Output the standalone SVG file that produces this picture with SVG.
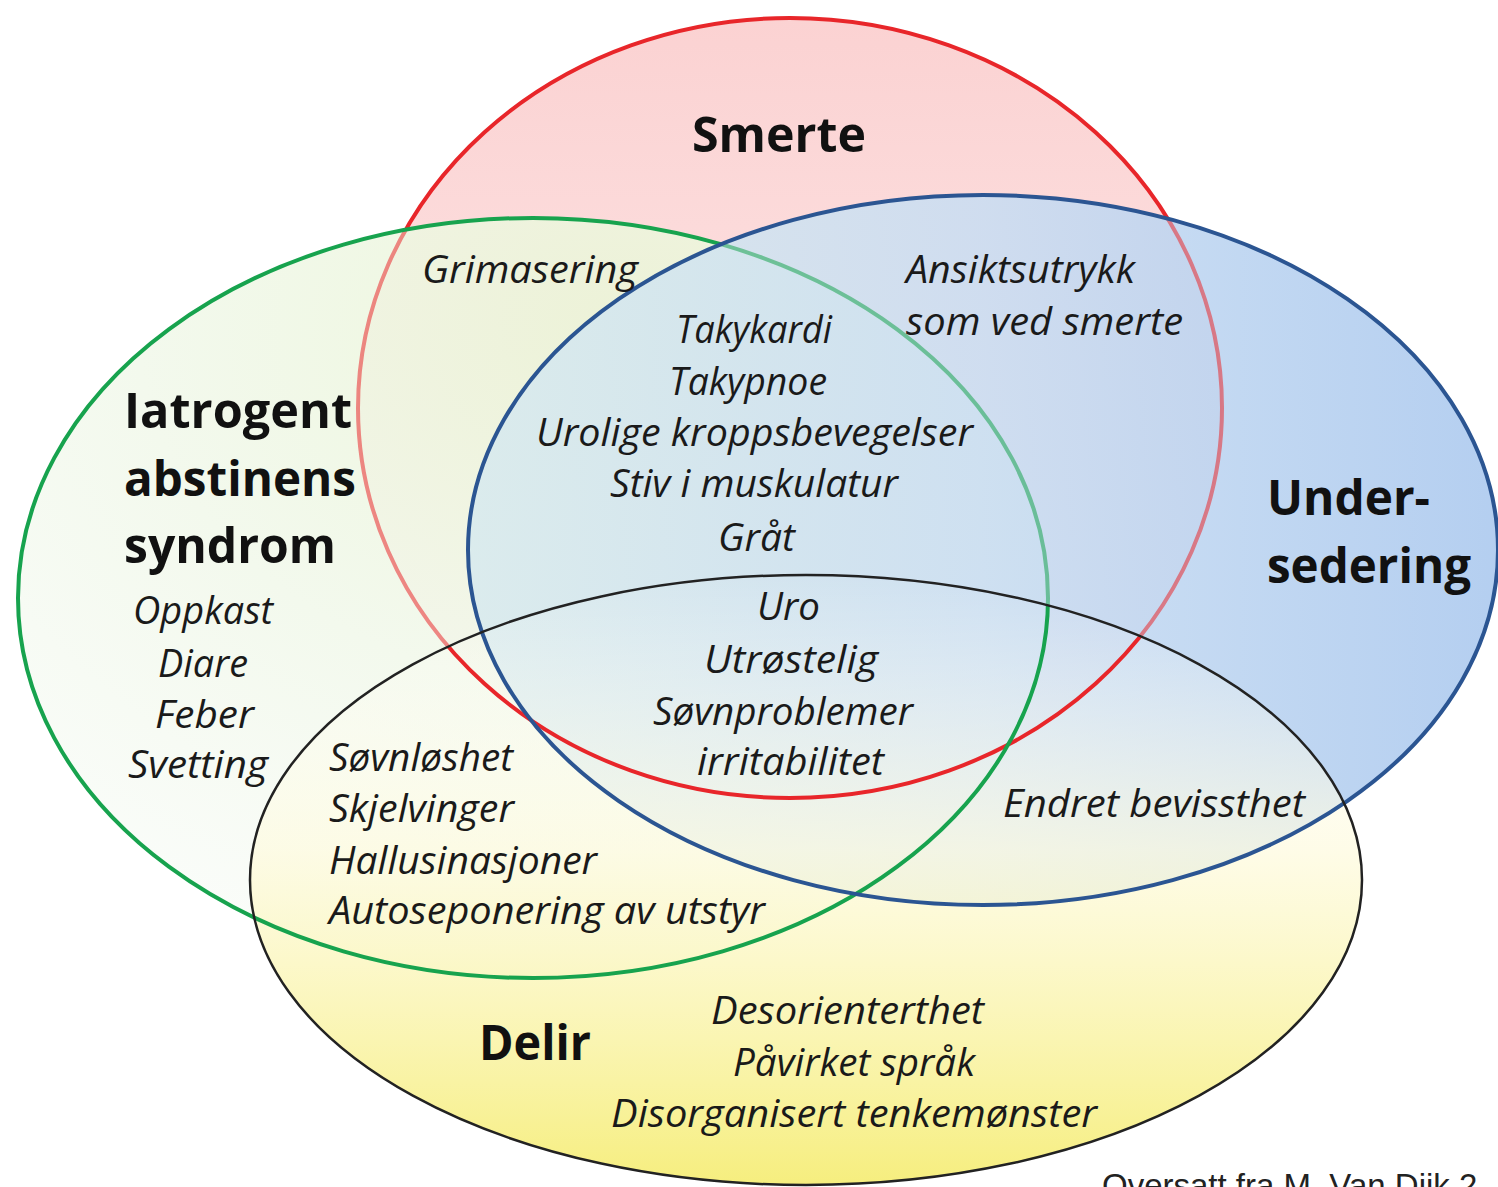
<svg xmlns="http://www.w3.org/2000/svg" width="1498" height="1187" viewBox="0 0 1498 1187">
<defs>
<linearGradient id="gRed" x1="0" y1="0" x2="0" y2="1">
<stop offset="0" stop-color="#fbd2d2"/>
<stop offset="0.6" stop-color="#fde4e4"/>
<stop offset="1" stop-color="#fff0f0"/>
</linearGradient>
<radialGradient id="gGreen" cx="0.6" cy="0.15" r="0.85">
<stop offset="0" stop-color="#eaf5d6"/>
<stop offset="0.55" stop-color="#f1f8ea"/>
<stop offset="1" stop-color="#f9fcf8"/>
</radialGradient>
<linearGradient id="gBlue" x1="0" y1="0" x2="1" y2="0">
<stop offset="0" stop-color="#d8eaee"/>
<stop offset="0.5" stop-color="#c9ddf2"/>
<stop offset="1" stop-color="#aac8ee"/>
</linearGradient>
<linearGradient id="gYellow" x1="0" y1="0" x2="0" y2="1">
<stop offset="0" stop-color="#ffffff" stop-opacity="0"/>
<stop offset="0.45" stop-color="#fefbe0" stop-opacity="0.75"/>
<stop offset="1" stop-color="#f6ee7e"/>
</linearGradient>
<mask id="mRed" maskUnits="userSpaceOnUse" x="0" y="0" width="1498" height="1187">
<rect width="1498" height="1187" fill="#fff"/>
<ellipse cx="533" cy="598" rx="515" ry="380" fill="#8a8a8a"/>
<ellipse cx="983" cy="550" rx="515" ry="355" fill="#8a8a8a"/>
<ellipse cx="806" cy="880" rx="556" ry="305" fill="#fff"/>
</mask>
<mask id="mGreen" maskUnits="userSpaceOnUse" x="0" y="0" width="1498" height="1187">
<rect width="1498" height="1187" fill="#fff"/>
<ellipse cx="983" cy="550" rx="515" ry="355" fill="#8a8a8a"/>
<ellipse cx="806" cy="880" rx="556" ry="305" fill="#fff"/>
</mask>
</defs>
<style>
.lbl{font-family:"Open Sans","Noto Sans",sans-serif;font-weight:bold;font-size:48px;fill:#111}
.it{font-family:"Open Sans","Noto Sans",sans-serif;font-style:italic;font-size:38px;fill:#1a1a1a}
.src{font-family:"Liberation Sans",Arial,sans-serif;font-size:33px;fill:#222}
.ol{fill:none}
</style>
<rect width="1498" height="1187" fill="#ffffff"/>
<g id="fills">
<ellipse cx="790" cy="408" rx="432" ry="390" fill="url(#gRed)"/>
<ellipse cx="533" cy="598" rx="515" ry="380" fill="url(#gGreen)" fill-opacity="0.88"/>
<ellipse cx="983" cy="550" rx="515" ry="355" fill="url(#gBlue)" fill-opacity="0.88"/>
<ellipse cx="806" cy="880" rx="556" ry="305" fill="url(#gYellow)"/>
</g>
<g id="smerte">
<ellipse class="ol" cx="790" cy="408" rx="432" ry="390" stroke="#e8262a" stroke-width="4" mask="url(#mRed)"/>
</g>
<g id="iatrogent">
<ellipse class="ol" cx="533" cy="598" rx="515" ry="380" stroke="#17a34e" stroke-width="4" mask="url(#mGreen)"/>
</g>
<g id="undersedering">
<ellipse class="ol" cx="983" cy="550" rx="515" ry="355" stroke="#2b5592" stroke-width="4"/>
</g>
<g id="delir">
<ellipse class="ol" cx="806" cy="880" rx="556" ry="305" stroke="#222" stroke-width="2.5"/>
</g>
<g id="connectors"></g>
<g id="labels">
<text class="lbl" x="692" y="152" textLength="174" lengthAdjust="spacingAndGlyphs">Smerte</text>
<text class="lbl" x="124" y="428" textLength="228" lengthAdjust="spacingAndGlyphs">Iatrogent</text>
<text class="lbl" x="124" y="496" textLength="232" lengthAdjust="spacingAndGlyphs">abstinens</text>
<text class="lbl" x="124" y="563" textLength="212" lengthAdjust="spacingAndGlyphs">syndrom</text>
<text class="lbl" x="1267" y="515" textLength="163" lengthAdjust="spacingAndGlyphs">Under-</text>
<text class="lbl" x="1267" y="583" textLength="204" lengthAdjust="spacingAndGlyphs">sedering</text>
<text class="lbl" x="479" y="1060" textLength="112" lengthAdjust="spacingAndGlyphs">Delir</text>

<text class="it" x="422" y="283" textLength="216" lengthAdjust="spacingAndGlyphs">Grimasering</text>
<text class="it" x="906" y="283" textLength="229" lengthAdjust="spacingAndGlyphs">Ansiktsutrykk</text>
<text class="it" x="906" y="335" textLength="277" lengthAdjust="spacingAndGlyphs">som ved smerte</text>
<text class="it" x="676" y="343" textLength="156" lengthAdjust="spacingAndGlyphs">Takykardi</text>
<text class="it" x="669" y="395" textLength="158" lengthAdjust="spacingAndGlyphs">Takypnoe</text>
<text class="it" x="536" y="446" textLength="437" lengthAdjust="spacingAndGlyphs">Urolige kroppsbevegelser</text>
<text class="it" x="610" y="497" textLength="288" lengthAdjust="spacingAndGlyphs">Stiv i muskulatur</text>
<text class="it" x="718" y="551" textLength="77" lengthAdjust="spacingAndGlyphs">Gråt</text>
<text class="it" x="757" y="620" textLength="63" lengthAdjust="spacingAndGlyphs">Uro</text>
<text class="it" x="704" y="673" textLength="174" lengthAdjust="spacingAndGlyphs">Utrøstelig</text>
<text class="it" x="653" y="725" textLength="260" lengthAdjust="spacingAndGlyphs">Søvnproblemer</text>
<text class="it" x="697" y="775" textLength="187" lengthAdjust="spacingAndGlyphs">irritabilitet</text>
<text class="it" x="133" y="624" textLength="140" lengthAdjust="spacingAndGlyphs">Oppkast</text>
<text class="it" x="158" y="677" textLength="90" lengthAdjust="spacingAndGlyphs">Diare</text>
<text class="it" x="155" y="728" textLength="99" lengthAdjust="spacingAndGlyphs">Feber</text>
<text class="it" x="128" y="778" textLength="140" lengthAdjust="spacingAndGlyphs">Svetting</text>
<text class="it" x="329" y="771" textLength="184" lengthAdjust="spacingAndGlyphs">Søvnløshet</text>
<text class="it" x="329" y="822" textLength="185" lengthAdjust="spacingAndGlyphs">Skjelvinger</text>
<text class="it" x="329" y="874" textLength="268" lengthAdjust="spacingAndGlyphs">Hallusinasjoner</text>
<text class="it" x="329" y="924" textLength="436" lengthAdjust="spacingAndGlyphs">Autoseponering av utstyr</text>
<text class="it" x="1003" y="817" textLength="302" lengthAdjust="spacingAndGlyphs">Endret bevissthet</text>
<text class="it" x="711" y="1024" textLength="273" lengthAdjust="spacingAndGlyphs">Desorienterthet</text>
<text class="it" x="733" y="1076" textLength="242" lengthAdjust="spacingAndGlyphs">Påvirket språk</text>
<text class="it" x="611" y="1127" textLength="486" lengthAdjust="spacingAndGlyphs">Disorganisert tenkemønster</text>
<text class="src" x="1102" y="1197">Oversatt fra M. Van Dijk 2</text>
</g>
</svg>
